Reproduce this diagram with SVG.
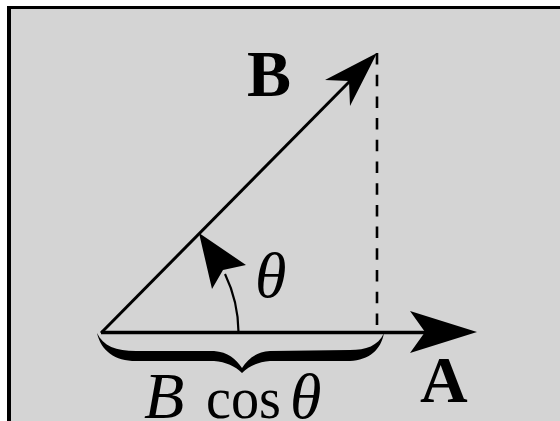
<svg xmlns="http://www.w3.org/2000/svg" width="560" height="421" viewBox="0 0 560 421">
<style>
.ln{stroke:#000;fill:none}
.hd{fill:#000;stroke:none}
.t{font-family:"Liberation Serif","Times New Roman",serif;fill:#000}
.bf{font-weight:bold}
.it{font-style:italic}
</style>
<rect x="0" y="0" width="560" height="421" fill="#fff"/>
<rect x="7" y="6" width="560" height="421" fill="#000"/>
<rect x="11" y="9" width="560" height="421" fill="#d4d4d4"/>
<g id="connectors">
<line class="ln" x1="377" y1="53" x2="377" y2="332" stroke-width="2.6" stroke-dasharray="11.5 10.2"/>
<line class="ln" x1="101" y1="332.5" x2="428" y2="332.5" stroke-width="3.5"/>
<polygon class="hd" points="477,332 410,311 425,332 410,353"/>
<line class="ln" x1="101" y1="333" x2="352" y2="79" stroke-width="3"/>
<polygon class="hd" points="377,53 325,80 349,81 350,106"/>
<path class="ln" d="M238.5 332 A137 137 0 0 0 225 274" stroke="#222" stroke-width="2.2"/>
<polygon class="hd" points="199,233 212,289 223,270 246,265"/>
<path class="hd" d="M97 333 C103 346,116 351,136 351 L214 351 C228 352,236 359,242 368 C248 359,256 352,270 351 L350 350 C366 350,378 346,384 333 C381 350,369 360,350 361 L270 361 C258 362,249 366,242 373 C235 366,226 362,214 361 L136 361 C115 361,101 351,97 333 Z"/>
</g>
<g id="label-B"><text class="t bf" x="247" y="96" font-size="66">B</text></g>
<g id="label-A"><text class="t bf" x="420" y="402" font-size="66">A</text></g>
<g id="label-theta"><text class="t it" x="255" y="297" font-size="64">θ</text></g>
<g id="label-Bcos">
<text class="t it" x="144" y="418" font-size="66">B</text>
<text class="t" x="206" y="418" font-size="60" textLength="75" lengthAdjust="spacingAndGlyphs">cos</text>
<text class="t it" x="290" y="418" font-size="64">θ</text>
</g>
</svg>
